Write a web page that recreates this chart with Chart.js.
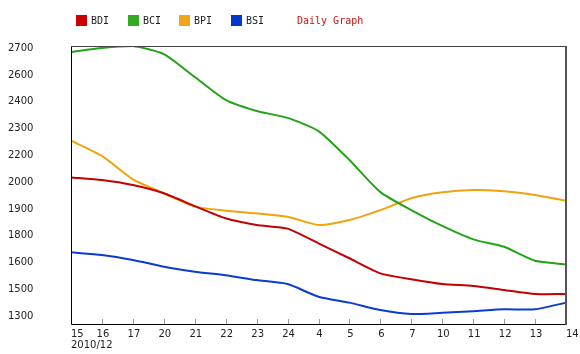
<!DOCTYPE html>
<html>
<head>
<meta charset="utf-8">
<script src="https://cdn.jsdelivr.net/npm/chart.js@4.4.1/dist/chart.umd.min.js"></script>
<style>
  html, body { margin: 0; padding: 0; background: #fff; }
  #wrap { position: relative; width: 580px; height: 354px; }
  canvas { position: absolute; left: 0; top: 0; }
  .lg { position: absolute; top: 14px; height: 13px; font: 10px "DejaVu Sans Mono", monospace; color: #222; line-height: 13px; white-space: nowrap; }
  .sq { display: inline-block; width: 11px; height: 11px; vertical-align: top; margin-top: 1px; margin-right: 4px; }
</style>
</head>
<body>
<div id="wrap">
  <canvas id="c" width="580" height="354"></canvas>
  <div class="lg" style="left:76px"><span class="sq" style="background:#cc0000"></span>BDI</div>
  <div class="lg" style="left:128px"><span class="sq" style="background:#33aa22"></span>BCI</div>
  <div class="lg" style="left:179px"><span class="sq" style="background:#f2a518"></span>BPI</div>
  <div class="lg" style="left:231px"><span class="sq" style="background:#0336cc"></span>BSI</div>
  <div class="lg" style="left:297px;color:#cc1111">Daily Graph</div>
</div>
<script>
// ---- data ----
const categories = ['15','16','17','20','21','22','23','24','4','5','6','7','10','11','12','13','14'];
const firstSubLabel = '2010/12';
const bdi = [2025, 2011, 1985, 1942, 1875, 1811, 1776, 1757, 1680, 1602, 1523, 1492, 1467, 1457, 1436, 1415, 1415];
const bci = [2681, 2702, 2712, 2670, 2550, 2430, 2372, 2336, 2267, 2116, 1948, 1854, 1771, 1701, 1662, 1589, 1570];
const bpi = [2217, 2137, 2015, 1942, 1872, 1851, 1837, 1819, 1776, 1802, 1854, 1916, 1947, 1959, 1952, 1933, 1903];
const bsi = [1633, 1619, 1593, 1558, 1532, 1513, 1488, 1467, 1401, 1370, 1331, 1310, 1317, 1325, 1335, 1335, 1370];
const yTickValues = [1300, 1440, 1580, 1720, 1860, 2000, 2140, 2280, 2420, 2560, 2700];
const yTickLabels = ['1300','1500','1600','1800','1900','2000','2200','2300','2400','2600','2700'];

const framePlugin = {
  id: 'frame',
  afterDraw(chart) {
    const ctx = chart.ctx;
    const a = chart.chartArea;
    const xs = chart.scales.x;
    ctx.save();
    // tick marks
    ctx.strokeStyle = '#999';
    ctx.lineWidth = 1;
    categories.forEach((c, i) => {
      const x = Math.round(xs.getPixelForValue(i)) + 0.5;
      ctx.beginPath();
      ctx.moveTo(x, a.bottom);
      ctx.lineTo(x, a.bottom - 5);
      ctx.stroke();
    });
    // frame
    ctx.strokeStyle = '#000';
    ctx.beginPath();
    ctx.moveTo(a.left + 0.5, a.top);
    ctx.lineTo(a.left + 0.5, a.bottom + 0.5);
    ctx.lineTo(a.right, a.bottom + 0.5);
    ctx.stroke();
    ctx.strokeStyle = '#444';
    ctx.beginPath();
    ctx.moveTo(a.left, a.top + 0.5);
    ctx.lineTo(a.right, a.top + 0.5);
    ctx.stroke();
    ctx.strokeStyle = '#555';
    ctx.lineWidth = 2;
    ctx.beginPath();
    ctx.moveTo(a.right, a.top);
    ctx.lineTo(a.right, a.bottom + 1);
    ctx.stroke();
    // x labels
    ctx.fillStyle = '#222';
    ctx.font = '10px "DejaVu Sans"';
    ctx.textBaseline = 'middle';
    categories.forEach((c, i) => {
      const x = xs.getPixelForValue(i);
      if (i === 0 || i === categories.length - 1) {
        ctx.textAlign = 'left';
        ctx.fillText(c, x, a.bottom + 10);
      } else {
        ctx.textAlign = 'center';
        ctx.fillText(c, x + 1, a.bottom + 10);
      }
    });
    ctx.textAlign = 'left';
    ctx.fillText(firstSubLabel, xs.getPixelForValue(0), a.bottom + 21);
    ctx.restore();
  }
};

const mk = (label, data, color) => ({
  label, data, borderColor: color, backgroundColor: color,
  borderWidth: 2, pointRadius: 0, tension: 0.2, fill: false
});

new Chart(document.getElementById('c'), {
  type: 'line',
  data: {
    labels: categories,
    datasets: [
      mk('BDI', bdi, '#c40000'),
      mk('BCI', bci, '#24a31a'),
      mk('BPI', bpi, '#f0a30a'),
      mk('BSI', bsi, '#0a3ccf')
    ]
  },
  options: {
    responsive: false,
    animation: false,
    devicePixelRatio: 1,
    layout: { padding: { left: 8, right: 14, top: 46, bottom: 0 } },
    plugins: { legend: { display: false }, tooltip: { enabled: false }, title: { display: false } },
    scales: {
      x: {
        type: 'category', offset: false,
        grid: { display: false }, border: { display: false },
        ticks: { display: false },
        afterFit(s) { s.height = 30; }
      },
      y: {
        type: 'linear', min: 1258.2, max: 2712.1,
        grid: { display: false }, border: { display: false },
        afterBuildTicks(s) { s.ticks = yTickValues.map(v => ({ value: v })); },
        ticks: {
          crossAlign: 'far', padding: 0, autoSkip: false,
          color: '#222', font: { family: 'DejaVu Sans', size: 10 },
          callback: (v, i) => yTickLabels[i]
        },
        afterFit(s) { s.width = 63; }
      }
    }
  },
  plugins: [framePlugin]
});
</script>
</body>
</html>
